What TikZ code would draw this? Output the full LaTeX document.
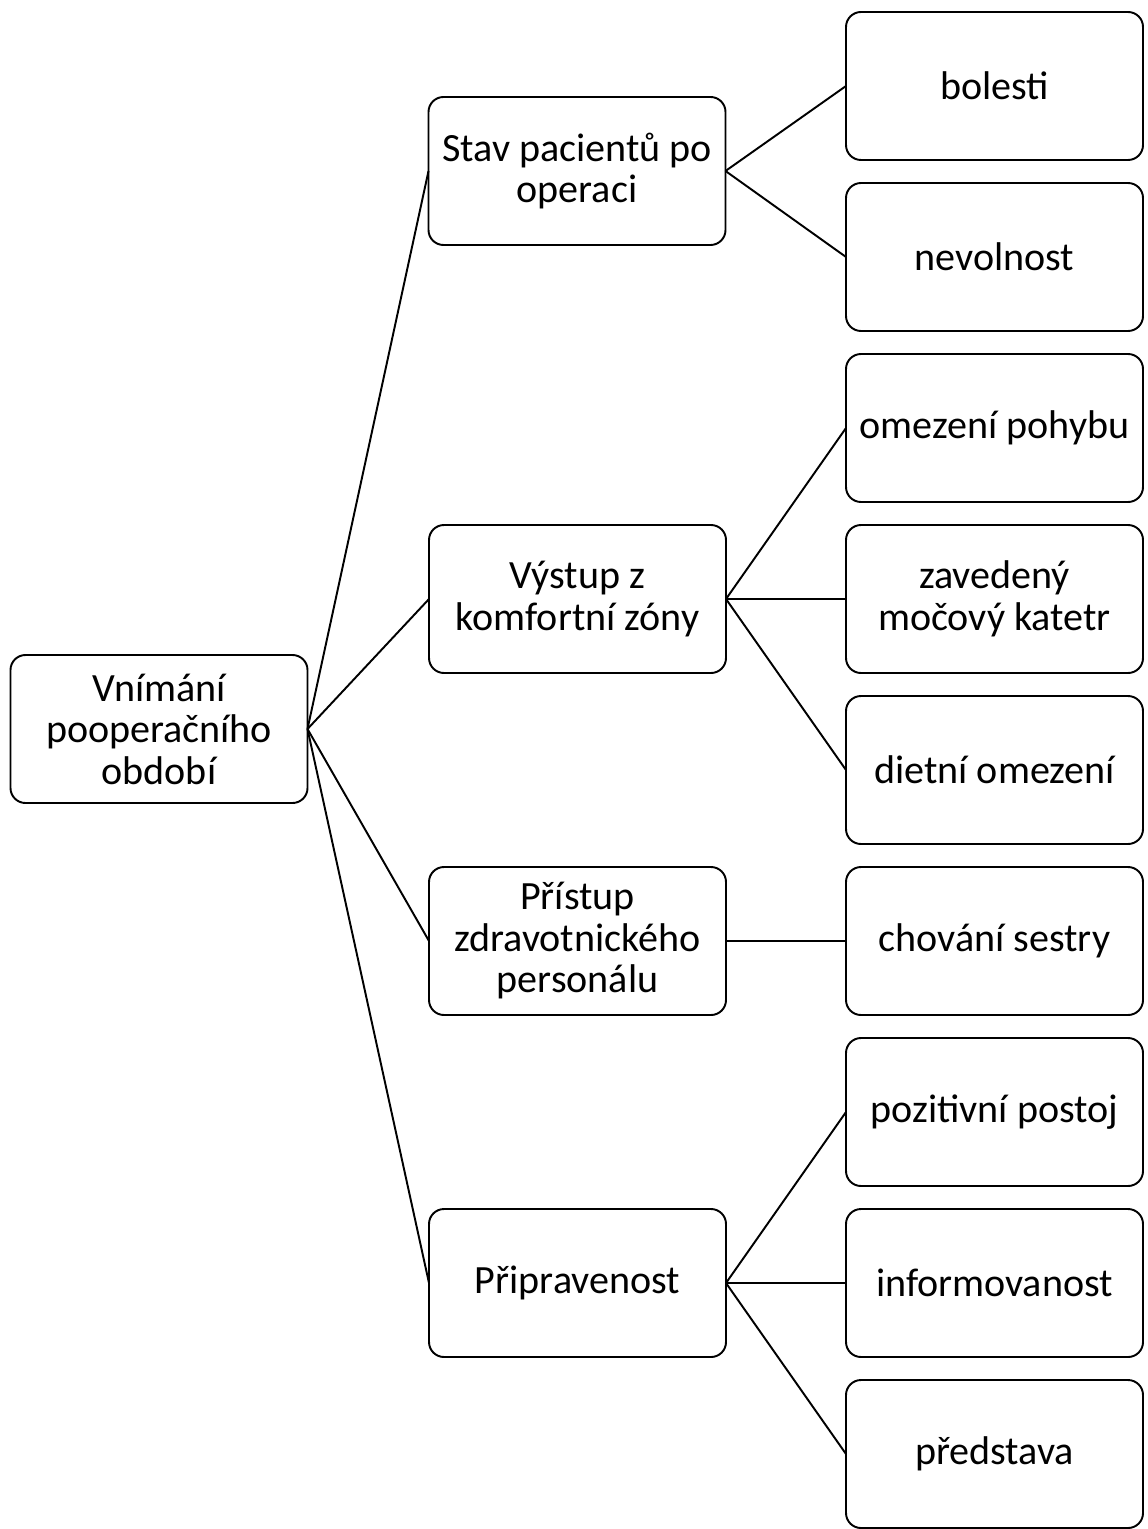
\documentclass[tikz,border=0pt]{standalone}
\usepackage{fontspec}
\setmainfont{Carlito}
\usetikzlibrary{positioning}

\begin{document}
\begin{tikzpicture}[node distance=0.46cm,
    box/.style={rectangle, draw, rounded corners=0.3cm, line width=1.1pt, minimum width=5.94cm, minimum height=2.96cm, align=center, outer sep=0pt, font=\fontsize{22.8}{23.6}\selectfont},
    link/.style={line width=1.1pt}]
    \useasboundingbox (0,0) rectangle (22.94,-30.58);

    \node [box] (bolesti) at (19.89,-1.72) {bolesti};
    \node [box, below=of bolesti] (nevolnost) {nevolnost};
    \node [box, below=of nevolnost] (pohyb) {omezení pohybu};
    \node [box, below=of pohyb] (katetr) {zavedený\\močový katetr};
    \node [box, below=of katetr] (dieta) {dietní omezení};
    \node [box, below=of dieta] (sestra) {chování sestry};
    \node [box, below=of sestra] (postoj) {pozitivní postoj};
    \node [box, below=of postoj] (info) {informovanost};
    \node [box, below=of info] (predstava) {představa};

    \node [box] (stav) at (11.54,-3.42) {Stav pacientů po\\operaci};
    \node [box, left=2.4cm of katetr] (vystup) {Výstup z\\komfortní zóny};
    \node [box, left=2.4cm of sestra] (pristup) {Přístup\\zdravotnického\\personálu};
    \node [box, left=2.4cm of info] (pripravenost) {Připravenost};

    \node [box] (vnimani) at (3.18,-14.58) {Vnímání\\pooperačního\\období};

    \foreach \kid in {stav, vystup, pristup, pripravenost}
        \draw [link] (vnimani.east) -- (\kid.west);
    \foreach \kid in {bolesti, nevolnost}
        \draw [link] (stav.east) -- (\kid.west);
    \foreach \kid in {pohyb, katetr, dieta}
        \draw [link] (vystup.east) -- (\kid.west);
    \draw [link] (pristup.east) -- (sestra.west);
    \foreach \kid in {postoj, info, predstava}
        \draw [link] (pripravenost.east) -- (\kid.west);
\end{tikzpicture}
\end{document}
